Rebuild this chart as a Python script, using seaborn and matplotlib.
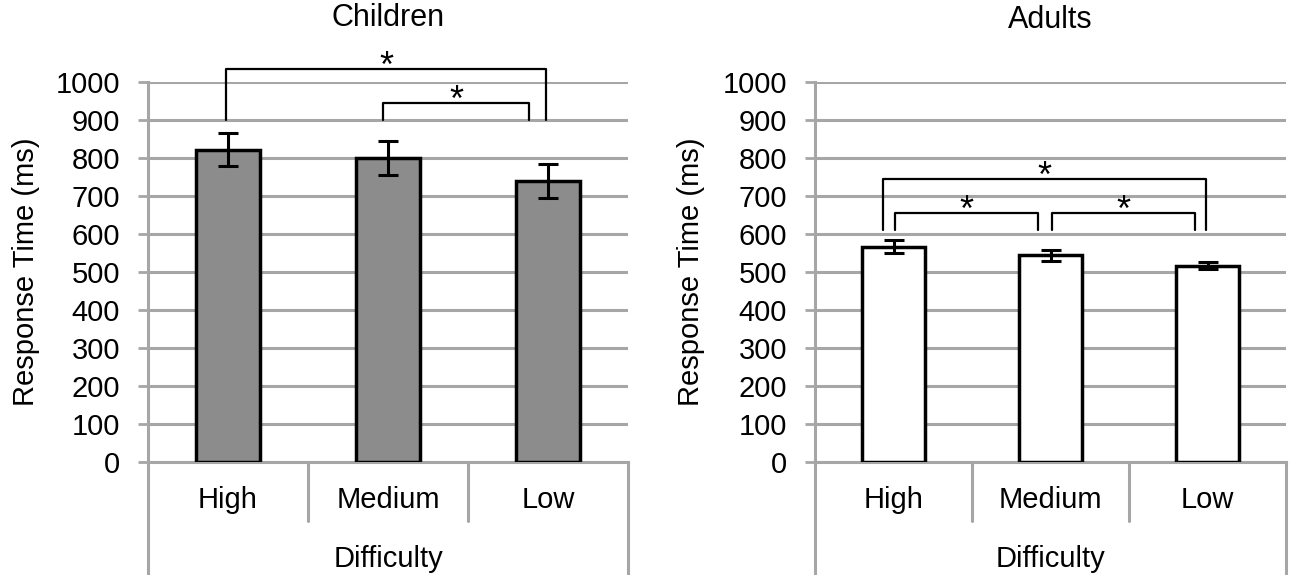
import matplotlib
matplotlib.use("Agg")
import matplotlib.pyplot as plt
import matplotlib.transforms as mtransforms
import seaborn as sns
import pandas as pd

sns.set_style("white")
plt.rcParams['font.family'] = ['Liberation Sans', 'DejaVu Sans']
plt.rcParams['text.color'] = 'black'
plt.rcParams['axes.labelcolor'] = 'black'
plt.rcParams['xtick.labelcolor'] = 'black'
plt.rcParams['ytick.labelcolor'] = 'black'

categories = ["High", "Medium", "Low"]
children_rt = [822, 800, 740]
children_err = [44, 44, 44]
adults_rt = [566, 544, 517]
adults_err = [17, 14, 10]
yticks = list(range(0, 1001, 100))

# significance brackets: (i, j, y_top, y_bottom, x offset left, x offset right)
children_brackets = [(0, 2, 1034, 900, -0.01, -0.01), (1, 2, 944, 900, -0.03, -0.12)]
adults_brackets = [(0, 2, 745, 610, -0.07, -0.01), (0, 1, 654, 610, 0.01, -0.08),
                   (1, 2, 654, 610, 0.01, -0.08)]

FS = 21
TFS = 22
GRID = "#a6a6a6"

fig = plt.figure(figsize=(12.91, 5.75), dpi=100)
ax1 = fig.add_axes([148/1291, 1 - 462/575, 480/1291, 380/575])
ax2 = fig.add_axes([815/1291, 1 - 462/575, 471/1291, 380/575])

def draw(ax, vals, errs, color, title, title_y, brackets):
    df = pd.DataFrame({"Difficulty": categories, "RT": vals})
    sns.barplot(data=df, x="Difficulty", y="RT", ax=ax, color=color, width=0.4,
                edgecolor="black", linewidth=2.5, saturation=1, errorbar=None, zorder=3)
    ax.errorbar(range(len(vals)), vals, yerr=errs, fmt="none", ecolor="black",
                elinewidth=2.2, capsize=7, capthick=2.2, zorder=4)
    ax.set_xlim(-0.5, 2.5)
    ax.set_ylim(0, 1000)
    ax.set_yticks(yticks)
    ax.yaxis.grid(True, color=GRID, linewidth=2.2, zorder=0)
    ax.set_axisbelow(True)
    for s in ["top", "right"]:
        ax.spines[s].set_visible(False)
    for s in ["left", "bottom"]:
        ax.spines[s].set_color(GRID)
        ax.spines[s].set_linewidth(2.2)
    ax.tick_params(axis="y", length=7, width=2, color=GRID, labelsize=FS, pad=13, left=True)
    ax.tick_params(axis="x", length=0, labelsize=FS, pad=17)
    ax.set_xlabel("")
    ax.set_ylabel("Response Time (ms)", fontsize=FS)
    ax.text(0.5, title_y, title, transform=ax.transAxes, ha="center", va="center",
            fontsize=TFS)
    trans = mtransforms.blended_transform_factory(ax.transData, ax.transAxes)
    # category dividers and outer box of the category axis
    for xd in [0.5, 1.5]:
        ax.plot([xd, xd], [0, -0.155], transform=trans, color=GRID, lw=2.2, clip_on=False)
    for xd in [-0.5, 2.5]:
        ax.plot([xd, xd], [0, -0.30], transform=trans, color=GRID, lw=2.2, clip_on=False)
    ax.text(1, -0.255, "Difficulty", transform=trans, ha="center", va="center", fontsize=FS)
    for i, j, yt, yb, oi, oj in brackets:
        xi, xj = i + oi, j + oj
        ax.plot([xi, xi, xj, xj], [yb, yt, yt, yb], color="black", lw=1.6,
                clip_on=False, zorder=5)
        ax.annotate("*", xy=((xi + xj) / 2, yt), xytext=(0, -5.5),
                    textcoords="offset points", ha="center", va="baseline",
                    fontsize=26, annotation_clip=False)

draw(ax1, children_rt, children_err, "#8c8c8c", "Children", 1.168, children_brackets)
draw(ax2, adults_rt, adults_err, "white", "Adults", 1.163, adults_brackets)
ax1.yaxis.set_label_coords((40 - 148) / 480, 0.5)
ax2.yaxis.set_label_coords((705 - 815) / 471, 0.5)

fig.savefig("out.png", dpi=100)
